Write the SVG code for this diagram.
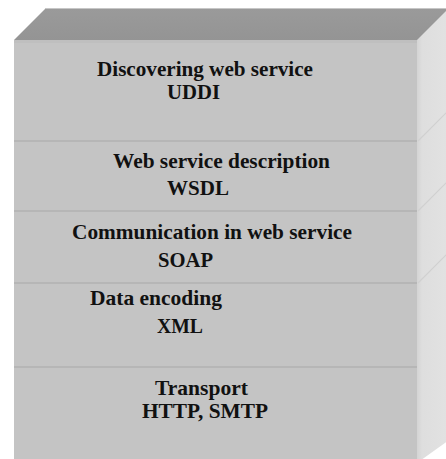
<svg xmlns="http://www.w3.org/2000/svg" width="446" height="459" viewBox="0 0 446 459">
  <defs>
    <linearGradient id="sideShade" x1="0" y1="0" x2="1" y2="0">
      <stop offset="0" stop-color="#d4d4d4"/>
      <stop offset="0.16" stop-color="#dedede"/>
      <stop offset="1" stop-color="#e2e2e2"/>
    </linearGradient>
    <linearGradient id="topShade" x1="0" y1="0" x2="0" y2="1">
      <stop offset="0" stop-color="#9a9a9a"/>
      <stop offset="1" stop-color="#949494"/>
    </linearGradient>
  </defs>
  <style>
    .front { fill: #c4c4c4; }
    .divider { stroke: #b6b6b6; stroke-width: 2; fill: none; }
    .edge { stroke: #d0d0d0; stroke-width: 1.2; fill: none; }
    .label { font-family: "Liberation Serif", "Times New Roman", serif; font-weight: bold; font-size: 21px; fill: #111; }
  </style>

  <rect width="446" height="459" fill="#ffffff"/>

  <!-- block body: top, right side and front faces -->
  <g id="block">
    <polygon points="14,40 45,9 449,9 418,40" fill="url(#topShade)"/>
    <line x1="45" y1="8.5" x2="446" y2="8.5" stroke="#c6c6c6" stroke-width="1"/>
    <polygon points="417,40 449,8 449,440 417,463" fill="url(#sideShade)"/>
    <rect class="front" x="14" y="40" width="403" height="425"/>
    <rect x="14" y="40" width="403" height="3" fill="#bcbcbc" opacity="0.6"/>
  </g>

  <!-- layer separators on the front and their continuation on the side -->
  <g id="separators">
    <line class="divider" x1="14" y1="141" x2="417" y2="141"/>
    <line class="divider" x1="14" y1="211" x2="417" y2="211"/>
    <line class="divider" x1="14" y1="283" x2="417" y2="283"/>
    <line class="divider" x1="14" y1="367" x2="417" y2="367"/>
    <line class="edge" x1="418" y1="141" x2="447" y2="112"/>
    <line class="edge" x1="418" y1="211" x2="447" y2="182"/>
    <line class="edge" x1="418" y1="283" x2="447" y2="254"/>
  </g>

  <g id="layer-uddi">
    <text class="label" x="97" y="76" textLength="216" lengthAdjust="spacingAndGlyphs">Discovering web service</text>
    <text class="label" x="167" y="99" textLength="53" lengthAdjust="spacingAndGlyphs">UDDI</text>
  </g>

  <g id="layer-wsdl">
    <text class="label" x="113" y="168" textLength="217" lengthAdjust="spacingAndGlyphs">Web service description</text>
    <text class="label" x="167" y="195" textLength="62" lengthAdjust="spacingAndGlyphs">WSDL</text>
  </g>

  <g id="layer-soap">
    <text class="label" x="72" y="239" textLength="280" lengthAdjust="spacingAndGlyphs">Communication in web service</text>
    <text class="label" x="158" y="267" textLength="55" lengthAdjust="spacingAndGlyphs">SOAP</text>
  </g>

  <g id="layer-xml">
    <text class="label" x="90" y="305" textLength="132" lengthAdjust="spacingAndGlyphs">Data encoding</text>
    <text class="label" x="157" y="333" textLength="46" lengthAdjust="spacingAndGlyphs">XML</text>
  </g>

  <g id="layer-transport">
    <text class="label" x="155" y="395" textLength="93" lengthAdjust="spacingAndGlyphs">Transport</text>
    <text class="label" x="142" y="418" textLength="126" lengthAdjust="spacingAndGlyphs">HTTP, SMTP</text>
  </g>
</svg>
